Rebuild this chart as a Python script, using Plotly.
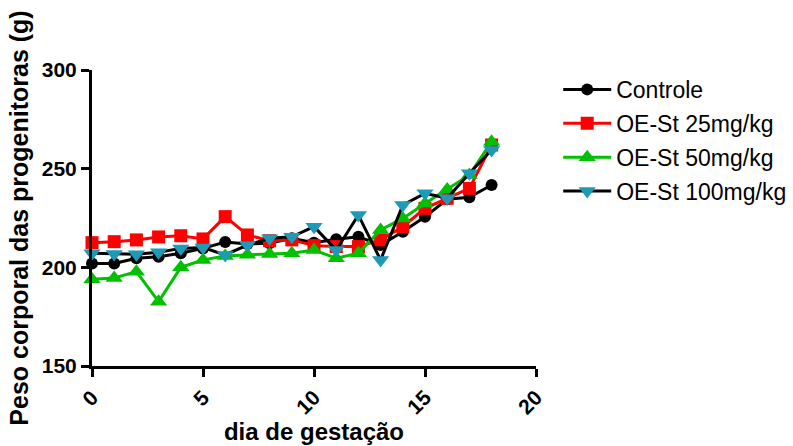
import plotly.graph_objects as go

days = list(range(0, 19))
controle = [202.0, 202.0, 204.6, 205.4, 207.1, 209.6, 212.8, 211.8, 212.2, 214.7, 212.5, 214.2, 215.5, 211.3, 218.0, 225.6, 234.5, 235.5, 241.7]
oe25 = [212.5, 213.0, 213.9, 215.4, 216.0, 214.4, 225.7, 216.4, 213.5, 213.9, 211.0, 210.5, 210.5, 213.9, 220.6, 229.9, 235.0, 240.0, 262.0]
oe50 = [194.0, 194.6, 197.8, 182.6, 200.0, 203.7, 205.8, 206.4, 206.8, 207.1, 208.8, 204.6, 207.2, 218.9, 224.8, 232.4, 239.5, 246.8, 263.7]
oe100 = [207.1, 206.8, 206.6, 207.6, 209.6, 210.0, 206.3, 211.3, 214.7, 215.5, 220.6, 208.8, 226.5, 203.7, 231.6, 237.5, 235.0, 247.7, 259.5]

names = ["Controle", "OE-St 25mg/kg", "OE-St 50mg/kg", "OE-St 100mg/kg"]
series = [controle, oe25, oe50, oe100]
line_colors = ["#000000", "#FF0000", "#00C000", "#000000"]
marker_colors = ["#000000", "#FF0000", "#00C000", "#1C9AB6"]
symbols = ["circle", "square", "triangle-up", "triangle-down"]
sizes = [12, 13, 15, 15]

fig = go.Figure()
for i in range(4):
    fig.add_trace(go.Scatter(
        x=days, y=series[i], name=names[i], mode="lines+markers",
        legendgroup=str(i), cliponaxis=False,
        line=dict(color=line_colors[i], width=3),
        marker=dict(symbol=symbols[i], size=sizes[i], color=marker_colors[i],
                    line=dict(width=0)),
    ))

font_b = "Liberation Sans, Arial, sans-serif"
fig.update_layout(
    width=793, height=446,
    margin=dict(l=92, r=257, t=70, b=80, autoexpand=False),
    paper_bgcolor="white", plot_bgcolor="white",
    font=dict(family=font_b, color="black"),
    showlegend=True,
    legend=dict(x=1.05, y=1.007, xanchor="left", yanchor="top",
                font=dict(size=23, family=font_b, color="black"),
                tracegroupgap=1, itemwidth=48),
    xaxis=dict(range=[0, 20], tickvals=[0, 5, 10, 15, 20], tickangle=-45,
               showgrid=False, zeroline=False, showline=True, linecolor="black", linewidth=3,
               ticks="outside", ticklen=8, tickwidth=3, tickcolor="black",
               tickfont=dict(size=21, family=font_b, weight="bold"),
               title=dict(text="dia de gestação", font=dict(size=24, family=font_b, weight="bold"), standoff=6)),
    yaxis=dict(range=[150, 300], tickvals=[150, 200, 250, 300],
               showgrid=False, zeroline=False, showline=True, linecolor="black", linewidth=3,
               ticks="outside", ticklen=8, tickwidth=3, tickcolor="black",
               tickfont=dict(size=21, family=font_b, weight="bold"),
               title=dict(text="Peso corporal das progenitoras (g)", font=dict(size=25, family=font_b, weight="bold"), standoff=7)),
)

fig.write_html("out.html")
